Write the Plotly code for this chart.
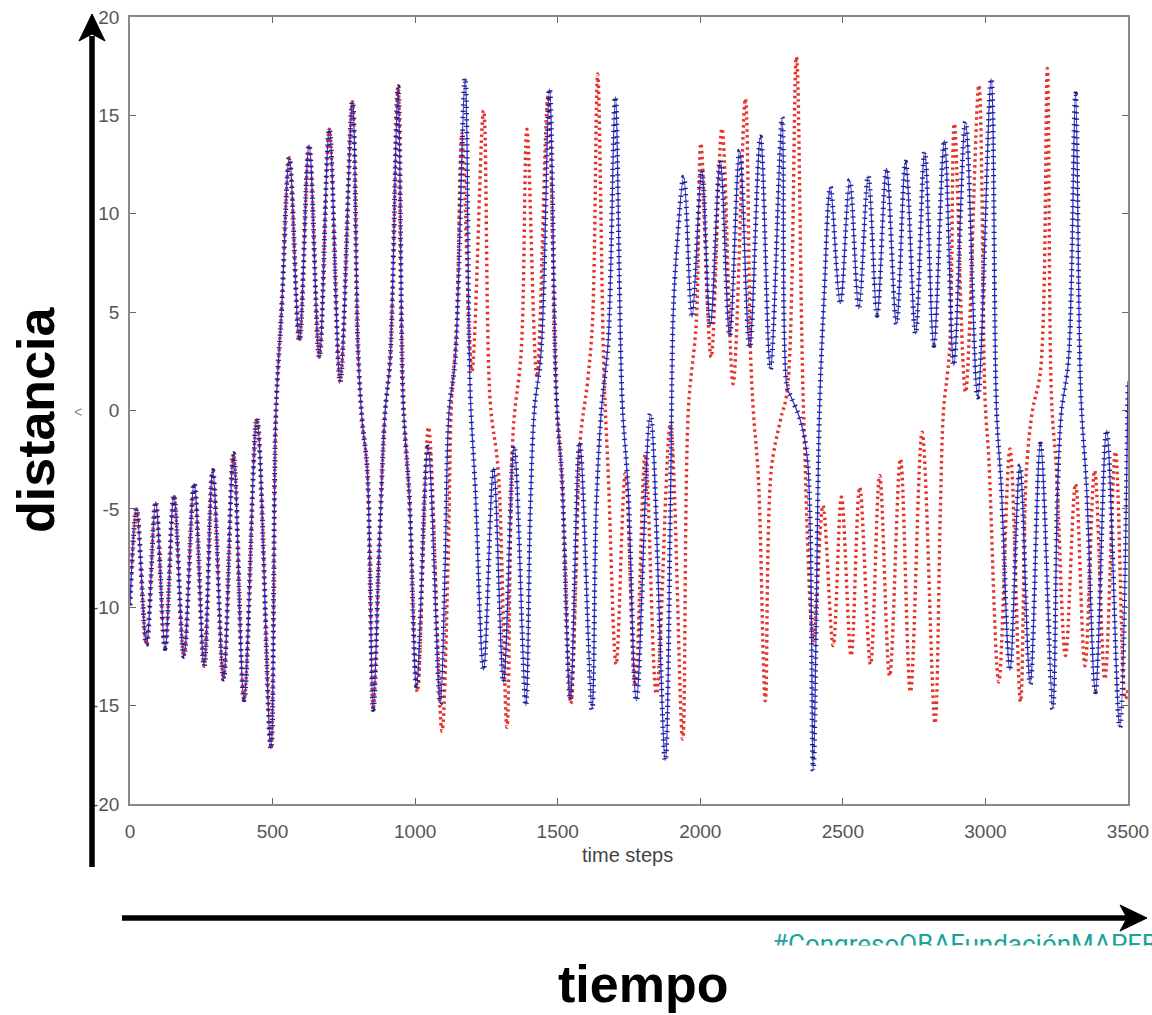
import plotly.graph_objects as go

# ---------------- data ----------------
# shared part of both trajectories (identical until ~t=980)
t_common = [0, 23, 58, 90, 123, 154, 189, 225, 260, 290, 328, 363, 400, 445, 494,
            512, 532, 559, 594, 628, 664, 699, 737, 780, 800, 814, 832, 853, 874,
            895, 912, 940, 958, 980]
v_common = [-9.9, -5.0, -11.9, -4.65, -12.1, -4.3, -12.5, -3.7, -13.0, -3.05, -13.65,
            -2.2, -14.7, -0.4, -17.2, 0.0, 5.2, 12.85, 3.55, 13.5, 2.7, 14.3, 1.45,
            15.7, 3.0, -0.5, -3.0, -15.2, -7.0, 0.0, 2.5, 16.45, 0.5, -4.5]

# red trajectory after divergence
t_red = [1008, 1047, 1094, 1115, 1128, 1145, 1164, 1199, 1240, 1263, 1291, 1322, 1344,
         1372, 1392, 1427, 1466, 1496, 1515, 1546, 1565, 1579, 1605, 1622, 1640, 1662,
         1678, 1705, 1737, 1772, 1807, 1846, 1895, 1938, 1958, 1986, 2002, 2038, 2076,
         2115, 2158, 2176, 2186, 2204, 2228, 2249, 2281, 2305, 2337, 2362, 2397, 2430,
         2466, 2495, 2529, 2559, 2597, 2629, 2664, 2702, 2737, 2778, 2823, 2842, 2853,
         2874, 2891, 2930, 2977, 2999, 3012, 3047, 3086, 3123, 3144, 3165, 3193, 3217,
         3232, 3249, 3281, 3316, 3349, 3383, 3419, 3456, 3491, 3500]
v_red = [-14.3, -0.85, -16.3, -8.0, 0.5, 4.0, 14.1, 2.0, 15.25, 0.5, -3.0, -16.1, -1.0,
         3.0, 14.3, 1.7, 16.0, 0.5, -3.5, -14.9, -8.0, -1.5, 1.5, 4.5, 17.1, 2.0,
         -3.5, -12.9, -3.2, -14.0, -2.2, -14.4, -0.68, -16.7, 0.0, 4.5, 13.57, 2.7, 14.33,
         1.36, 15.85, 3.0, 0.0, -3.5, -14.75, -3.0, -0.5, 1.0, 17.97, 0.0, -11.7, -4.83,
         -11.95, -4.4, -12.46, -3.9, -12.9, -3.3, -13.5, -2.46, -14.3, -1.1, -15.9, -5.0, 0.0,
         3.0, 14.58, 0.93, 16.53, 0.5, -2.5, -13.8, -1.95, -14.8, -3.0, 0.0, 2.0, 17.38,
         0.5, -3.0, -12.46, -3.73, -12.97, -3.05, -13.65, -2.1, -14.66, -14.2]

# blue trajectory after divergence
t_blue = [1005, 1045, 1088, 1105, 1119, 1140, 1175, 1193, 1211, 1240, 1275, 1310, 1347,
          1388, 1404, 1418, 1442, 1471, 1496, 1515, 1544, 1577, 1620, 1635, 1653, 1677,
          1702, 1726, 1747, 1776, 1825, 1877, 1895, 1905, 1918, 1942, 1971, 2005, 2035,
          2070, 2103, 2138, 2173, 2211, 2246, 2287, 2304, 2318, 2351, 2376, 2396, 2418,
          2435, 2456, 2491, 2524, 2556, 2589, 2620, 2653, 2688, 2720, 2755, 2787, 2819,
          2856, 2889, 2930, 2973, 3020, 3039, 3056, 3086, 3121, 3157, 3193, 3236, 3253,
          3267, 3291, 3316, 3334, 3355, 3386, 3425, 3471, 3500]
v_blue = [-14.0, -1.86, -14.9, -8.0, 0.0, 2.5, 16.9, 1.0, -4.0, -13.2, -2.9, -13.8, -1.8,
          -15.0, -5.0, 0.0, 3.0, 16.35, 0.5, -3.5, -14.7, -1.6, -15.2, -5.0, 0.0, 3.5,
          15.95, 0.5, -4.0, -14.75, -0.17, -17.8, -5.0, 4.9, 8.3, 11.87, 4.75, 12.2, 4.3,
          12.7, 3.8, 13.2, 3.2, 13.9, 2.1, 14.9, 1.2, 0.7, -0.5, -2.5, -18.3, 0.0,
          6.0, 11.36, 5.43, 11.7, 5.17, 11.92, 4.83, 12.3, 4.4, 12.63, 3.9, 13.14, 3.3,
          13.73, 2.29, 14.67, 0.68, 16.87, 0.0, -4.0, -13.2, -2.8, -13.9, -1.7, -15.17, -4.0,
          0.0, 2.5, 16.1, 1.0, -4.0, -14.3, -1.0, -16.1, 1.5]

x_ticks = [0, 500, 1000, 1500, 2000, 2500, 3000, 3500]
y_ticks = [-20, -15, -10, -5, 0, 5, 10, 15, 20]
x_title = "time steps"
y_big_label = "distancia"
x_big_label = "tiempo"
hashtag = "#CongresoOBAFundaciónMAPFRE"

# ---------------- figure ----------------
W, H = 1152, 1015   # nominal page size; all positions are given as fractions of it


def px(x):
    return x / W


def py(y):
    return 1 - y / H


x_red = t_common + t_red
y_red = v_common + v_red
x_blue = t_common + t_blue
y_blue = v_common + v_blue

fig = go.Figure()
fig.add_trace(go.Scatter(x=x_red, y=y_red, mode="lines",
                         line=dict(color="#e5332a", width=3.4, shape="spline", dash="2.5px,3.5px"),
                         hoverinfo="skip"))
fig.add_trace(go.Scatter(x=x_blue, y=y_blue, mode="lines",
                         line=dict(color="#3030e6", width=1.3, shape="spline"),
                         hoverinfo="skip"))
fig.add_trace(go.Scatter(x=x_blue, y=y_blue, mode="lines",
                         line=dict(color="#22227a", width=5, shape="spline", dash="1.3px,5px"),
                         hoverinfo="skip"))

# clipped hashtag text (bottom half hidden, as in the picture)
fig.add_trace(go.Scatter(x=[772], y=[946], mode="text", text=[hashtag],
                         textposition="middle right",
                         textfont=dict(family="Roboto", size=26, color="#1aa39a"),
                         cliponaxis=True, xaxis="x2", yaxis="y2", hoverinfo="skip"))

axis_common = dict(showgrid=False, zeroline=False, showline=True, linecolor="#8a8a8a",
                   linewidth=1.5, mirror="ticks", ticks="inside", ticklen=6,
                   tickcolor="#666", tickwidth=1.2,
                   tickfont=dict(family="Liberation Sans", size=19, color="#555"))

fig.update_layout(
    autosize=True,
    margin=dict(l=0, r=0, t=0, b=0, autoexpand=False),
    paper_bgcolor="white", plot_bgcolor="white",
    showlegend=False,
    xaxis=dict(domain=[px(130), px(1128)], range=[0, 3500], tickvals=x_ticks,
               ticktext=[str(v) for v in x_ticks], ticklabelstandoff=9, **axis_common),
    yaxis=dict(domain=[py(804), py(17)], range=[-20, 20], tickvals=y_ticks,
               ticktext=[str(v) for v in y_ticks], ticklabelstandoff=5, **axis_common),
    xaxis2=dict(domain=[0, 1], range=[0, W], visible=False, anchor="y2"),
    yaxis2=dict(domain=[py(945.5), py(920)], range=[945.5, 920], visible=False, anchor="x2"),
)

# arrows
arrow_w = 5.5
shapes = [
    dict(type="line", xref="paper", yref="paper", x0=px(92), x1=px(92), y0=py(867), y1=py(36),
         line=dict(color="black", width=arrow_w), layer="above"),
    dict(type="path", xref="paper", yref="paper",
         path=f"M {px(92)},{py(14)} L {px(105)},{py(41)} L {px(92)},{py(34)} L {px(79)},{py(41)} Z",
         fillcolor="black", line=dict(color="black", width=1), layer="above"),
    dict(type="line", xref="paper", yref="paper", x0=px(122), x1=px(1128), y0=py(918), y1=py(918),
         line=dict(color="black", width=arrow_w), layer="above"),
    dict(type="path", xref="paper", yref="paper",
         path=f"M {px(1147)},{py(918)} L {px(1120)},{py(905)} L {px(1127)},{py(918)} L {px(1120)},{py(931)} Z",
         fillcolor="black", line=dict(color="black", width=1), layer="above"),
]
fig.update_layout(shapes=shapes)

annotations = [
    dict(text=f"<b>{y_big_label}</b>", x=px(36), y=py(420), xref="paper", yref="paper",
         showarrow=False, textangle=-90, xanchor="center", yanchor="middle",
         font=dict(family="Liberation Sans", size=52, color="black")),
    dict(text=f"<b>{x_big_label}</b>", x=px(643), y=py(1014), xref="paper", yref="paper",
         showarrow=False, xanchor="center", yanchor="bottom", borderpad=0,
         font=dict(family="Liberation Sans", size=52, color="black")),
    dict(text=x_title, x=px(627), y=py(855), xref="paper", yref="paper",
         showarrow=False, xanchor="center", yanchor="middle",
         font=dict(family="Liberation Sans", size=20, color="#444")),
    dict(text="&lt;", x=px(78), y=py(412), xref="paper", yref="paper",
         showarrow=False, xanchor="center", yanchor="middle",
         font=dict(family="Liberation Sans", size=14, color="#888")),
]
fig.update_layout(annotations=annotations)

post = ("document.documentElement.style.overflow='hidden';"
        "document.body.style.margin='0px';document.body.style.overflow='hidden';"
        "var gd=document.getElementById('{plot_id}');Plotly.Plots.resize(gd);")
fig.write_html("out.html", default_width="100vw", default_height="100vh",
               config={"displayModeBar": False, "responsive": True},
               post_script=post)
